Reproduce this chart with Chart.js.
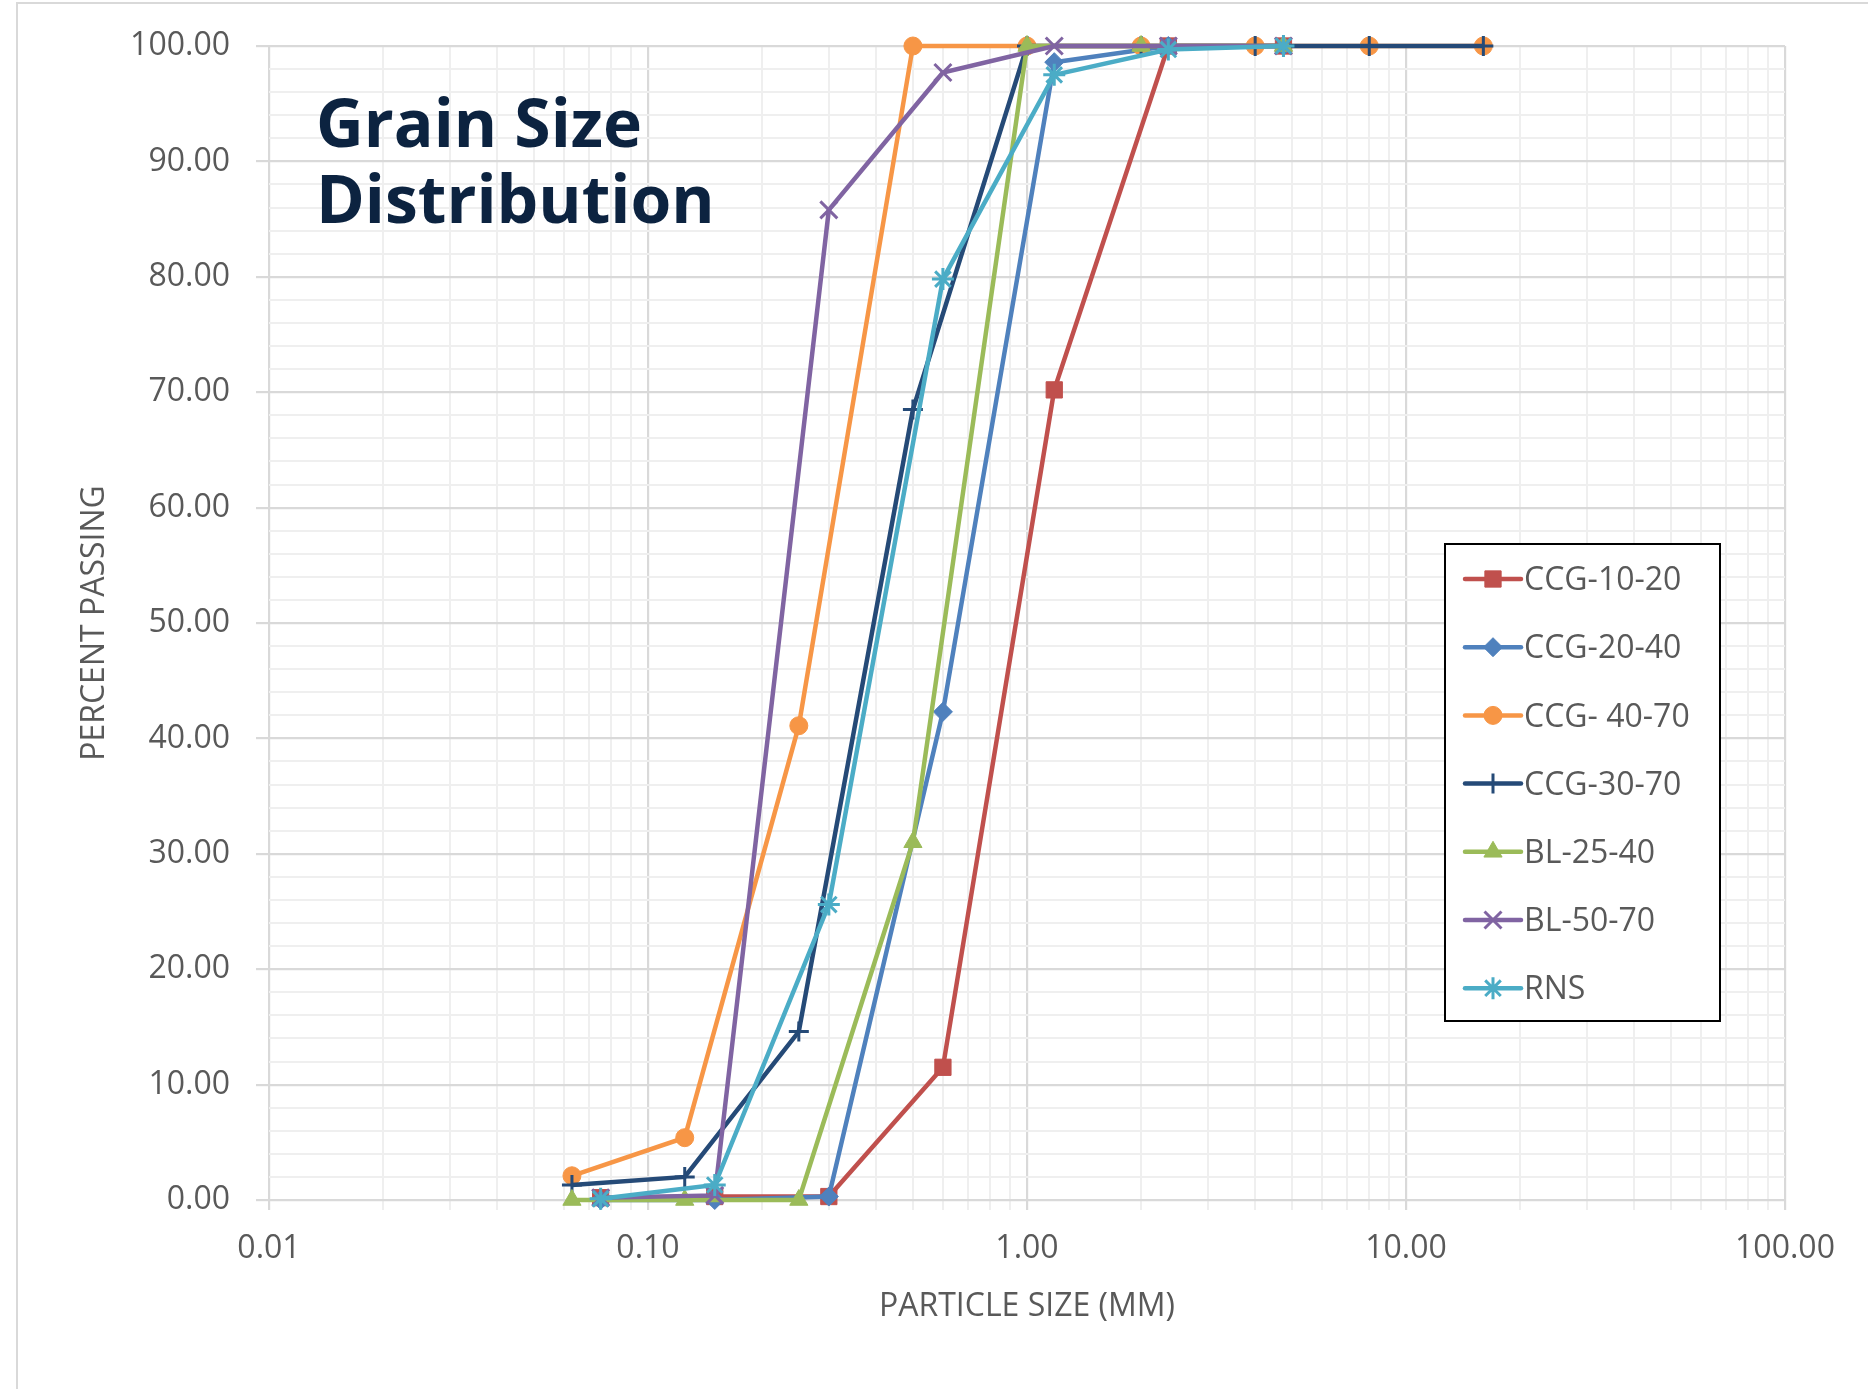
<!DOCTYPE html>
<html>
<head>
<meta charset="utf-8">
<title>Grain Size Distribution</title>
<script src="https://cdn.jsdelivr.net/npm/chart.js@4.4.0/dist/chart.umd.min.js"></script>
<style>
  html, body { margin: 0; padding: 0; background: #fff; }
  #wrap { position: relative; width: 1868px; height: 1389px; }
</style>
</head>
<body>
<div id="wrap"><canvas id="gsdChart"></canvas></div>
<script>
// sieve sizes (mm)
const sievesFine = [0.075, 0.15, 0.3, 0.6, 1.18, 2.36, 4.75];
const sievesCoarse = [0.063, 0.125, 0.25, 0.5, 1, 2, 4, 8, 16];
const sievesBL = [0.063, 0.125, 0.25, 0.5, 1, 2, 4.75];

// percent passing
const ccg1020 = [0.2, 0.3, 0.3, 11.5, 70.2, 100, 100];
const ccg2040 = [0, 0, 0.3, 42.3, 98.6, 100, 100];
const ccg4070 = [2.1, 5.4, 41.1, 100, 100, 100, 100, 100, 100];
const ccg3070 = [1.3, 2.0, 14.6, 68.5, 100, 100, 100, 100, 100];
const bl2540 = [0, 0, 0, 31.0, 100, 100, 100];
const bl5070 = [0.2, 0.4, 85.8, 97.7, 100, 100, 100];
const rns = [0.1, 1.3, 25.6, 79.8, 97.5, 99.7, 100];

const seriesNames = ['CCG-10-20', 'CCG-20-40', 'CCG- 40-70', 'CCG-30-70', 'BL-25-40', 'BL-50-70', 'RNS'];
const seriesX = [sievesFine, sievesFine, sievesCoarse, sievesCoarse, sievesBL, sievesFine, sievesFine];
const seriesY = [ccg1020, ccg2040, ccg4070, ccg3070, bl2540, bl5070, rns];

// tick labels
const xMajorTicks = [0.01, 0.1, 1, 10, 100];
const yMajorTicks = [0, 10, 20, 30, 40, 50, 60, 70, 80, 90, 100];

const seriesColors = ['#c0504d', '#4f81bd', '#f79646', '#254a77', '#9bbb59', '#8064a2', '#4bacc6'];
const seriesMarkers = ['rect', 'rectRot', 'circle', 'cross', 'triangle', 'crossRot', 'star'];
const markerSizes = [11.5, 9.5, 9, 10, 10.5, 12, 11];
const textGrey = '#595959';

Chart.defaults.font.family = "'Open Sans', sans-serif";

function isMajorX(v) {
  return xMajorTicks.some(t => Math.abs(Math.log10(v) - Math.log10(t)) < 1e-6);
}
function isMajorY(v) {
  return yMajorTicks.includes(Math.round(v * 1000) / 1000);
}
function lineMarker(i) {
  return ['cross', 'crossRot', 'star'].includes(seriesMarkers[i]);
}

const datasets = seriesNames.map((name, i) => ({
  label: name,
  data: seriesX[i].map((s, j) => ({ x: s, y: seriesY[i][j] })),
  borderColor: seriesColors[i],
  backgroundColor: seriesColors[i],
  borderWidth: 4.5,
  pointStyle: seriesMarkers[i],
  pointRadius: markerSizes[i],
  pointBorderWidth: lineMarker(i) ? 3 : 1,
  tension: 0,
  fill: false,
  clip: false,
  order: seriesNames.length - i
}));

// frame, title inside plot, and the boxed legend
const decorations = {
  id: 'decorations',
  beforeDraw(chart) {
    const ctx = chart.ctx;
    ctx.save();
    ctx.fillStyle = '#fff';
    ctx.fillRect(0, 0, chart.width, chart.height);
    ctx.strokeStyle = '#d9d9d9';
    ctx.lineWidth = 2;
    ctx.beginPath();
    ctx.moveTo(17, chart.height);
    ctx.lineTo(17, 3);
    ctx.lineTo(chart.width, 3);
    ctx.stroke();
    ctx.restore();
  },
  beforeDatasetsDraw(chart) {
    const ctx = chart.ctx;
    ctx.save();
    ctx.fillStyle = '#0c2340';
    ctx.font = "bold 66px 'Open Sans', sans-serif";
    ctx.textBaseline = 'alphabetic';
    ctx.fillText('Grain Size', 316, 147);
    ctx.fillText('Distribution', 316, 223);
    ctx.restore();
  },
  afterDraw(chart) {
    const ctx = chart.ctx;
    const box = { x: 1445, y: 544, w: 275, h: 477 };
    ctx.save();
    ctx.fillStyle = '#fff';
    ctx.fillRect(box.x, box.y, box.w, box.h);
    ctx.strokeStyle = '#000';
    ctx.lineWidth = 2;
    ctx.strokeRect(box.x, box.y, box.w, box.h);
    ctx.font = "32px 'Open Sans', sans-serif";
    ctx.textBaseline = 'middle';
    seriesNames.forEach((name, i) => {
      const y = 579 + i * 68.2;
      ctx.strokeStyle = seriesColors[i];
      ctx.lineWidth = 4.5;
      ctx.lineCap = 'round';
      ctx.beginPath();
      ctx.moveTo(1465, y);
      ctx.lineTo(1521, y);
      ctx.stroke();
      ctx.lineCap = 'butt';
      ctx.fillStyle = seriesColors[i];
      ctx.lineWidth = lineMarker(i) ? 3 : 1;
      Chart.helpers.drawPoint(ctx, {
        pointStyle: seriesMarkers[i],
        radius: markerSizes[i],
        rotation: 0,
        borderWidth: lineMarker(i) ? 3 : 1
      }, 1493, y);
      ctx.fillStyle = textGrey;
      ctx.fillText(name, 1524, y + 2);
    });
    ctx.restore();
  }
};

const chart = new Chart(document.getElementById('gsdChart'), {
  type: 'line',
  data: { datasets: datasets },
  plugins: [decorations],
  options: {
    responsive: true,
    maintainAspectRatio: false,
    animation: false,
    layout: { padding: { left: 0, top: 46, right: 83, bottom: 0 } },
    plugins: {
      legend: { display: false },
      tooltip: { enabled: false }
    },
    scales: {
      x: {
        type: 'logarithmic',
        min: 0.01,
        max: 100,
        afterBuildTicks(scale) {
          const ticks = [];
          for (let e = -2; e <= 2; e++) {
            for (let m = 1; m <= 9; m++) {
              const v = m * Math.pow(10, e);
              if (v > 100.0001) break;
              ticks.push({ value: v });
            }
          }
          scale.ticks = ticks;
        },
        afterFit(scale) { scale.height = 189; },
        border: { display: false },
        grid: {
          color: c => (c.tick && isMajorX(c.tick.value)) ? '#d9d9d9' : '#efefef',
          tickColor: c => (c.tick && isMajorX(c.tick.value)) ? '#d9d9d9' : '#efefef',
          lineWidth: c => (c.tick && isMajorX(c.tick.value)) ? 2.2 : 2,
          tickLength: 10
        },
        ticks: {
          autoSkip: false,
          maxRotation: 0,
          padding: 20,
          color: textGrey,
          font: { size: 32 },
          callback: v => isMajorX(v) ? Number(v).toFixed(2) : ''
        },
        title: {
          display: true,
          text: 'PARTICLE SIZE (MM)',
          color: textGrey,
          font: { size: 32 },
          padding: { top: 0, bottom: 63 }
        }
      },
      y: {
        min: 0,
        max: 100,
        afterFit(scale) { scale.width = 269; },
        border: { display: false },
        grid: {
          color: c => (c.tick && isMajorY(c.tick.value)) ? '#d9d9d9' : '#efefef',
          tickColor: c => (c.tick && isMajorY(c.tick.value)) ? '#d9d9d9' : 'rgba(0,0,0,0)',
          lineWidth: c => (c.tick && isMajorY(c.tick.value)) ? 2.2 : 2,
          tickLength: 13
        },
        ticks: {
          stepSize: 2,
          autoSkip: false,
          padding: 26,
          color: textGrey,
          font: { size: 32 },
          callback: v => isMajorY(v) ? Number(v).toFixed(2) : ''
        },
        title: {
          display: true,
          text: 'PERCENT PASSING',
          color: textGrey,
          font: { size: 32 },
          padding: { top: 76, bottom: 0 }
        }
      }
    }
  }
});
</script>
</body>
</html>
